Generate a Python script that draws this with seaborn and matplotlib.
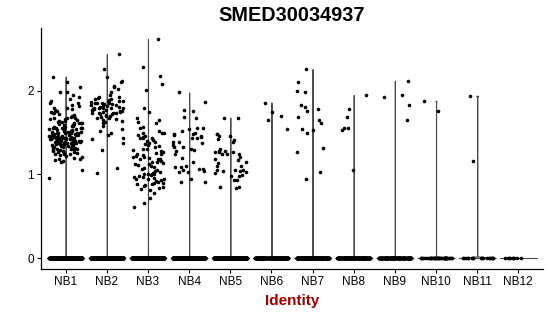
import numpy as np
import pandas as pd
import matplotlib
matplotlib.use("Agg")
import matplotlib.pyplot as plt
import seaborn as sns

# ---------------- data ----------------
identities = ["NB1", "NB2", "NB3", "NB4", "NB5", "NB6",
              "NB7", "NB8", "NB9", "NB10", "NB11", "NB12"]

# number of cells with zero expression in each identity (estimated)
zero_counts = [500, 600, 500, 450, 450, 220, 260, 220, 160, 40, 18, 9]

nb1 = [2.17, 2.10, 2.05, 1.99, 1.98, 1.95, 1.93, 1.90, 1.88, 1.86, 1.85, 1.83,
       1.82, 1.80, 1.80, 1.78, 1.77, 1.76, 1.75, 1.74,
       1.73, 1.72, 1.71, 1.70, 1.70, 1.69, 1.68, 1.68, 1.67, 1.66, 1.66, 1.65,
       1.64, 1.64, 1.63, 1.63, 1.62, 1.62, 1.61, 1.61, 1.60, 1.60, 1.59, 1.59,
       1.58, 1.58, 1.57, 1.57, 1.56, 1.56, 1.56, 1.55, 1.55, 1.55,
       1.54, 1.54, 1.53, 1.53, 1.53, 1.52, 1.52, 1.52, 1.51, 1.51, 1.51, 1.50,
       1.50, 1.50, 1.50, 1.49, 1.49, 1.49, 1.48, 1.48, 1.48, 1.48, 1.47, 1.47,
       1.47, 1.46, 1.46, 1.46, 1.46, 1.45, 1.45, 1.45, 1.45, 1.44, 1.44, 1.44,
       1.44, 1.43, 1.43, 1.43, 1.43, 1.42, 1.42, 1.42, 1.42, 1.42, 1.41, 1.41,
       1.41, 1.41, 1.40, 1.40, 1.40, 1.40, 1.40, 1.39, 1.39, 1.39, 1.39, 1.38,
       1.38, 1.38, 1.38, 1.37, 1.37, 1.37, 1.37, 1.36, 1.36, 1.36, 1.36, 1.35,
       1.35, 1.35, 1.35, 1.34, 1.34, 1.34, 1.33, 1.33, 1.33, 1.32, 1.32, 1.32,
       1.31, 1.31, 1.30, 1.30,
       1.29, 1.29, 1.28, 1.28, 1.27, 1.27, 1.26, 1.26, 1.25, 1.25, 1.24, 1.23,
       1.22, 1.21, 1.20, 1.19, 1.18, 1.17, 1.16, 1.15, 1.05, 0.96]

nb2 = [2.44, 2.26, 2.16, 2.12, 2.10, 2.06, 2.04, 2.02, 1.98, 1.95, 1.93, 1.90,
       1.88,
       1.92, 1.91, 1.90, 1.89, 1.88, 1.88, 1.87, 1.86, 1.86, 1.85, 1.85, 1.84,
       1.84, 1.83, 1.83, 1.82, 1.82, 1.81, 1.81, 1.80, 1.80, 1.80, 1.79, 1.79,
       1.78, 1.78, 1.78, 1.77, 1.77, 1.76, 1.76, 1.75, 1.75, 1.74, 1.74, 1.73,
       1.73, 1.72, 1.72, 1.71, 1.70, 1.70, 1.69, 1.68, 1.67, 1.66, 1.65, 1.64,
       1.63, 1.62,
       1.58, 1.54, 1.52, 1.50, 1.47, 1.44, 1.42, 1.38, 1.29, 1.08, 1.02]

nb3 = [2.62, 2.28, 2.18, 2.08, 2.01, 1.80, 1.75, 1.67, 1.65, 1.63, 1.61, 1.57,
       1.55, 1.52, 1.50, 1.49, 1.49, 1.47, 1.46, 1.45, 1.44, 1.43, 1.43, 1.41,
       1.40, 1.39, 1.38, 1.36, 1.35, 1.34, 1.33, 1.31, 1.30, 1.29, 1.28, 1.27,
       1.26, 1.25, 1.24, 1.23, 1.22, 1.21, 1.21, 1.20, 1.19, 1.18, 1.18, 1.17,
       1.16, 1.15, 1.15, 1.14, 1.13, 1.12, 1.11, 1.10, 1.09, 1.08, 1.06, 1.05,
       1.04, 1.03, 1.02, 1.01, 1.01, 1.00, 1.00, 0.99, 0.98, 0.97, 0.97, 0.96,
       0.95, 0.94, 0.94, 0.93, 0.92, 0.91, 0.90, 0.90, 0.89, 0.88, 0.87, 0.86,
       0.85, 0.84, 0.83, 0.81, 0.78, 0.72, 0.66, 0.61]

nb4 = [1.98, 1.87, 1.77, 1.76, 1.69, 1.67, 1.55, 1.55, 1.54, 1.52, 1.50, 1.48,
       1.48, 1.47, 1.46, 1.45, 1.43, 1.43, 1.39, 1.39, 1.37, 1.35, 1.33, 1.33,
       1.31, 1.29, 1.28, 1.25, 1.20, 1.15, 1.10, 1.09, 1.09, 1.07, 1.07, 1.05,
       1.04, 1.03, 1.03, 0.95, 0.91, 0.91]

nb5 = [1.68, 1.67, 1.48, 1.48, 1.46, 1.46, 1.42, 1.41, 1.39, 1.31, 1.28, 1.28,
       1.27, 1.27, 1.27, 1.25, 1.25, 1.24, 1.21, 1.19, 1.17, 1.15, 1.14, 1.10,
       1.10, 1.05, 1.05, 1.05, 1.04, 1.04, 1.03, 1.02, 0.99, 0.98, 0.98, 0.93,
       0.93, 0.85, 0.85, 0.84]

nb6 = [1.86, 1.75, 1.70, 1.65, 1.54]
nb7 = [2.26, 2.11, 2.00, 1.99, 1.83, 1.81, 1.78, 1.76, 1.69, 1.65, 1.61, 1.54,
       1.53, 1.49, 1.32, 1.27, 1.03, 0.94]
nb8 = [1.95, 1.78, 1.69, 1.55, 1.55, 1.53, 1.05]
nb9 = [2.12, 1.95, 1.92, 1.83, 1.65]
nb10 = [1.88, 1.76]
nb11 = [1.94, 1.16]
nb12 = []

nonzero = [nb1, nb2, nb3, nb4, nb5, nb6, nb7, nb8, nb9, nb10, nb11, nb12]

rows_ident, rows_expr = [], []
for ident, nz, vals in zip(identities, zero_counts, nonzero):
    v = [0.0] * nz + list(vals)
    rows_ident += [ident] * len(v)
    rows_expr += v
df = pd.DataFrame({"ident": rows_ident, "expr": rows_expr})

# ---------------- plot ----------------
sns.set_style("ticks")
plt.rcParams["font.family"] = ["Liberation Sans", "DejaVu Sans"]

fig = plt.figure(figsize=(5.5, 3.16), dpi=100)
ax = fig.add_axes([41 / 550, 1 - 269 / 316, (543 - 41) / 550, (269 - 28) / 316])

sns.violinplot(data=df, x="ident", y="expr", order=identities, ax=ax,
               density_norm="width", cut=0, bw_method=0.001, inner=None,
               color="white", linewidth=0.8, linecolor="#4a4a4a", width=0.9)

np.random.seed(3)
sns.stripplot(data=df, x="ident", y="expr", order=identities, ax=ax,
              jitter=0.4, color="black", size=2.6, linewidth=0, zorder=3)

ax.set_xlim(-0.6, 11.6)
ax.set_ylim(-0.131, 2.751)
ax.set_yticks([0, 1, 2])
ax.set_yticklabels(["0", "1", "2"])
ax.set_ylabel("")
ax.set_xlabel("Identity", fontsize=11, fontweight="bold", color="#990000",
              labelpad=4)
ax.set_title("SMED30034937", fontsize=14.3, fontweight="bold", pad=5,
             color="black")

for s in ["top", "right"]:
    ax.spines[s].set_visible(False)
for s in ["left", "bottom"]:
    ax.spines[s].set_linewidth(0.9)
    ax.spines[s].set_color("black")
ax.tick_params(axis="both", length=3, width=0.8, color="black",
               labelsize=8.5, labelcolor="black", pad=2)

fig.savefig("out.png", dpi=100)
